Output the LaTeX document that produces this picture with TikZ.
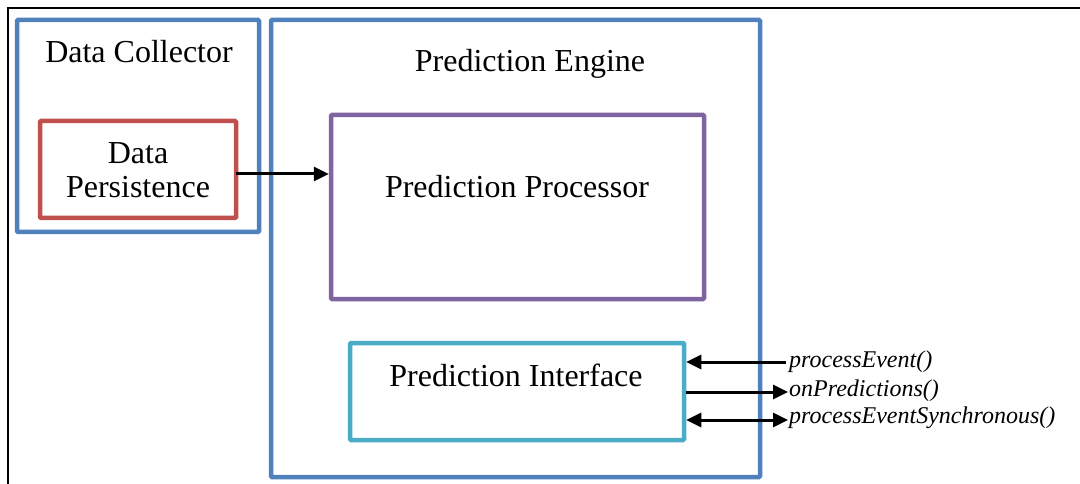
\documentclass[tikz,border=0pt]{standalone}
\usepackage{fontspec}
\setmainfont{Liberation Serif}
\usetikzlibrary{arrows.meta}
\definecolor{cblue}{HTML}{4F81BD}
\definecolor{cred}{HTML}{C0504D}
\definecolor{cpurple}{HTML}{8064A2}
\definecolor{ccyan}{HTML}{4BACC6}
\tikzset{
  box/.style={draw, line width=4.5pt, rounded corners=1pt, inner sep=0pt},
  big/.style={font=\fontsize{32}{34}\selectfont, inner sep=0pt, align=center},
  lab/.style={font=\fontsize{24}{26}\selectfont\itshape, inner sep=0pt, anchor=west},
  arr/.style={line width=3pt, -{Triangle[length=15pt,width=14pt]}},
  darr/.style={line width=3pt, {Triangle[length=15pt,width=14pt]}-{Triangle[length=15pt,width=14pt]}}
}
\begin{document}
\begin{tikzpicture}[x=1pt,y=-1pt]
\useasboundingbox (0,0) rectangle (1080,484);
\fill[white] (0,0) rectangle (1080,484);
\coordinate (tr) at (1080,8);
\coordinate (tl) at (8,8);
\coordinate (bl) at (8,484);
\draw[line width=2.5pt] (tr) -- (tl) -- (bl);
% boxes
\node[box, cblue, minimum width=242pt, minimum height=212pt] (dc) at (138,126) {};
\node[box, cblue, minimum width=489pt, minimum height=457pt] (pe) at (515.5,248.5) {};
\node[box, cred, minimum width=196pt, minimum height=97pt] (dp) at (138,169.5) {};
\node[box, cpurple, minimum width=373pt, minimum height=184pt] (pp) at (517.5,207) {};
\node[box, ccyan, minimum width=334pt, minimum height=97pt] (pi) at (517,391.5) {};
% texts
\node[big] (dct) at (139,52) {Data Collector};
\node[big] (pet) at (530,64) {Prediction Engine};
\node[big] (dpt) at (138,170) {Data\\Persistence};
\node[big] (ppt) at (517,187) {Prediction Processor};
\node[big] (pit) at (516,375) {Prediction Interface};
% labels
\node[lab] (l1) at (789,362) {processEvent()};
\node[lab] (l2) at (789,391) {onPredictions()};
\node[lab] (l3) at (789,418) {processEventSynchronous()};
% arrows
\coordinate (a0) at (236,174);
\draw[arr] (a0) -- (a0 -| pp.west);
\coordinate (c1) at (786,362);
\coordinate (c2) at (788,392);
\coordinate (c3) at (788,420);
\draw[arr] (c1) -- (c1 -| pi.east);
\draw[arr] (c2 -| pi.east) -- (c2);
\draw[darr] (c3 -| pi.east) -- (c3);
\end{tikzpicture}
\end{document}
